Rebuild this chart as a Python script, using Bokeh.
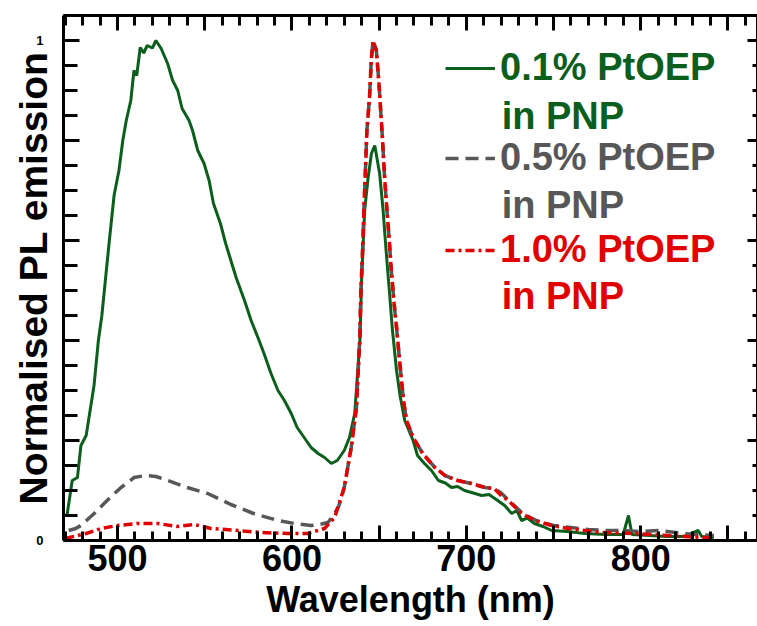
from bokeh.plotting import figure
from bokeh.models import FixedTicker, LinearAxis, Label, Legend, LegendItem, Range1d
from bokeh.embed import file_html
from bokeh.resources import INLINE

# ---- data ----
wl_01 = [471, 474, 477, 479, 482, 484.7, 486.5, 489, 491, 493, 495, 498, 500.8, 503, 505,
         507.6, 509.4, 511, 513, 515, 517, 520, 522, 525, 528.7, 531.6, 534.5, 537, 541, 543,
         546, 549.6, 552.5, 555, 559, 562, 565, 568, 572.8, 576.6, 580.5, 584, 588, 592,
         595.7, 599.6, 603, 607, 611, 615, 618.7, 622.6, 626, 630, 633, 636, 639, 640,
         641.7, 643.7, 645.6, 647.5, 650.3, 652.3, 654, 656, 657.5, 660, 662, 664.7, 669.5,
         672, 676, 680, 684, 688, 691.5, 695, 699, 704, 708.8, 713, 718, 722, 726, 729,
         731.7, 735, 739, 744, 749, 758, 768, 780, 790, 793, 795, 805, 815, 825, 833, 835, 842]
pl_01 = [0.05, 0.12, 0.126, 0.19, 0.21, 0.27, 0.31, 0.40, 0.45, 0.52, 0.59, 0.69, 0.74, 0.80,
         0.84, 0.88, 0.94, 0.93, 0.986, 0.975, 0.99, 0.985, 1.0, 0.984, 0.954, 0.92, 0.90,
         0.864, 0.84, 0.82, 0.78, 0.754, 0.72, 0.674, 0.634, 0.594, 0.56, 0.526, 0.48, 0.44,
         0.406, 0.374, 0.334, 0.30, 0.28, 0.254, 0.226, 0.206, 0.186, 0.174, 0.166, 0.154,
         0.16, 0.18, 0.206, 0.254, 0.40, 0.526, 0.66, 0.726, 0.774, 0.79, 0.734, 0.66, 0.58,
         0.494, 0.426, 0.34, 0.29, 0.24, 0.20, 0.17, 0.154, 0.14, 0.12, 0.115, 0.106, 0.108,
         0.10, 0.095, 0.09, 0.092, 0.08, 0.07, 0.054, 0.06, 0.04, 0.045, 0.034, 0.028, 0.02,
         0.018, 0.014, 0.012, 0.012, 0.05, 0.012, 0.01, 0.008, 0.008, 0.02, 0.008, 0.006]

wl_05 = [472, 476, 479, 486.6, 494, 502, 509.5, 516, 522, 528.7, 540, 551.7, 565, 578, 592,
         601.5, 611, 617, 620.7, 624.5, 627, 630, 634, 637, 639, 639.5, 640.6, 641.4, 642.3,
         643, 644.5, 645.5, 646.5, 648.4, 649.8, 651, 652, 652.9, 654.2, 655.7, 657, 658.6,
         660, 662, 664, 665.7, 669.5, 675, 682, 687.7, 695, 703, 710.7, 716, 720, 726, 732,
         740, 750, 760, 770, 780, 790, 800, 810, 820, 830, 842]
pl_05 = [0.02, 0.024, 0.03, 0.054, 0.08, 0.106, 0.126, 0.13, 0.128, 0.12, 0.106, 0.094,
         0.072, 0.054, 0.04, 0.034, 0.03, 0.033, 0.036, 0.054, 0.07, 0.106, 0.186, 0.266,
         0.41, 0.494, 0.586, 0.674, 0.754, 0.82, 0.886, 0.96, 1.0, 0.98, 0.92, 0.854, 0.80,
         0.74, 0.674, 0.606, 0.54, 0.474, 0.426, 0.35, 0.28, 0.24, 0.206, 0.174, 0.146, 0.13,
         0.12, 0.114, 0.106, 0.104, 0.095, 0.075, 0.055, 0.04, 0.03, 0.026, 0.022, 0.02,
         0.02, 0.018, 0.02, 0.016, 0.012, 0.01]

wl_10 = [470, 482, 490.4, 500, 511.5, 523, 534.5, 544, 553.6, 569, 582, 597.7, 609, 618.7,
         624.5, 630, 634, 637, 639, 639.5, 640.6, 641.4, 642.3, 643, 644.5, 645.5, 646.5,
         648.4, 649.8, 651, 652, 652.9, 654.2, 655.7, 657, 658.6, 660, 662, 664, 665.7,
         669.5, 675, 682, 687.7, 695, 703, 710.7, 716, 720, 724, 731.7, 739.4, 749, 758.6,
         778, 797, 816, 835, 842]
pl_10 = [0.004, 0.014, 0.024, 0.03, 0.034, 0.034, 0.028, 0.032, 0.024, 0.02, 0.016, 0.014,
         0.014, 0.024, 0.046, 0.106, 0.186, 0.266, 0.41, 0.494, 0.586, 0.674, 0.754, 0.82,
         0.886, 0.96, 1.0, 0.98, 0.92, 0.854, 0.80, 0.74, 0.674, 0.606, 0.54, 0.474, 0.426,
         0.35, 0.28, 0.24, 0.206, 0.174, 0.146, 0.13, 0.12, 0.114, 0.106, 0.104, 0.09, 0.08,
         0.054, 0.04, 0.03, 0.024, 0.016, 0.014, 0.01, 0.006, 0.006]

series_names = ["0.1% PtOEP", "0.5% PtOEP", "1.0% PtOEP"]
second_line = "in PNP"

x_major = [500, 550, 600, 650, 700, 750, 800, 850]
x_minor = list(range(470, 870, 10))
x_labels = {500: "500", 550: "", 600: "600", 650: "", 700: "700", 750: "", 800: "800", 850: ""}
y_major = [0, 0.2, 0.4, 0.6, 0.8, 1.0]
y_minor = [0.05, 0.1, 0.15, 0.25, 0.3, 0.35, 0.45, 0.5, 0.55, 0.65, 0.7, 0.75, 0.85, 0.9, 0.95, 1.05]
y_labels = {0: "0", 0.2: "", 0.4: "", 0.6: "", 0.8: "", 1.0: "1"}

FONT = "Liberation Sans"
GREEN = "#0b5e1c"
GRAY = "#575757"
RED = "#e00000"

p = figure(width=757, height=626, output_backend="svg", toolbar_location=None,
           x_range=Range1d(469, 867), y_range=Range1d(0, 1.05),
           min_border_left=63, min_border_right=0, min_border_top=15, min_border_bottom=86)
p.grid.visible = False
p.outline_line_color = None

r1 = p.line(wl_01, pl_01, line_color=GREEN, line_width=3)
r2 = p.line(wl_05, pl_05, line_color=GRAY, line_width=3.5, line_dash="13 7")
r3 = p.line(wl_10, pl_10, line_color=RED, line_width=3.5, line_dash="9 4 3 4")


def style_axis(ax, ticks, minor, tin, mtin):
    ax.ticker = FixedTicker(ticks=ticks, minor_ticks=minor)
    ax.axis_line_width = 3
    ax.axis_line_color = "black"
    ax.major_tick_line_width = 3
    ax.minor_tick_line_width = 3
    ax.major_tick_in = tin
    ax.major_tick_out = 0
    ax.minor_tick_in = mtin
    ax.minor_tick_out = 0
    ax.major_label_text_font = FONT
    ax.major_label_text_font_style = "bold"
    ax.major_label_text_color = "black"


xa = p.xaxis[0]
style_axis(xa, x_major, x_minor, 15, 9)
xa.major_label_overrides = x_labels
xa.major_label_text_font_size = "36px"
xa.major_label_standoff = 4
xa.axis_label = "Wavelength (nm)"
xa.axis_label_text_font = FONT
xa.axis_label_text_font_style = "bold"
xa.axis_label_text_font_size = "36px"
xa.axis_label_text_color = "black"
xa.axis_label_standoff = 5

ya = p.yaxis[0]
style_axis(ya, y_major, y_minor, 16, 14)
ya.major_label_overrides = y_labels
ya.major_label_text_font_size = "13px"
ya.major_label_standoff = 20
ya.axis_label = "Normalised PL emission"
ya.axis_label_text_font = FONT
ya.axis_label_text_font_style = "bold"
ya.axis_label_text_font_size = "39px"
ya.axis_label_text_color = "black"
ya.axis_label_standoff = -22

top = LinearAxis()
style_axis(top, x_major, x_minor, 15, 10)
top.major_label_overrides = {t: "" for t in x_major}
top.major_label_text_font_size = "8px"
top.major_label_standoff = 0
p.add_layout(top, "above")

right = LinearAxis()
style_axis(right, y_major, y_minor, 10, 5)
right.major_label_overrides = {t: "" for t in y_major}
right.major_label_text_font_size = "8px"
right.major_label_standoff = 0
p.add_layout(right, "right")

# legends (one per series so each label can take its series colour)
for r, name, col, loc in [(r1, series_names[0], GREEN, (382, 451)),
                          (r2, series_names[1], GRAY, (382, 361)),
                          (r3, series_names[2], RED, (382, 269))]:
    leg = Legend(items=[LegendItem(label=name, renderers=[r])], location=loc,
                 padding=0, margin=0, spacing=0, border_line_color=None,
                 background_fill_alpha=0, glyph_width=50, glyph_height=20,
                 label_standoff=5, label_text_font=FONT, label_text_font_style="bold",
                 label_text_font_size="38px", label_text_color=col)
    p.add_layout(leg)

for yv, col in [(0.8486, GREEN), (0.672, GRAY), (0.4886, RED)]:
    p.add_layout(Label(x=720.3, y=yv, text=second_line, text_align="left",
                       text_baseline="alphabetic", text_font=FONT, text_font_style="bold",
                       text_font_size="38px", text_color=col))

open("out.html", "w").write(file_html(p, INLINE))
